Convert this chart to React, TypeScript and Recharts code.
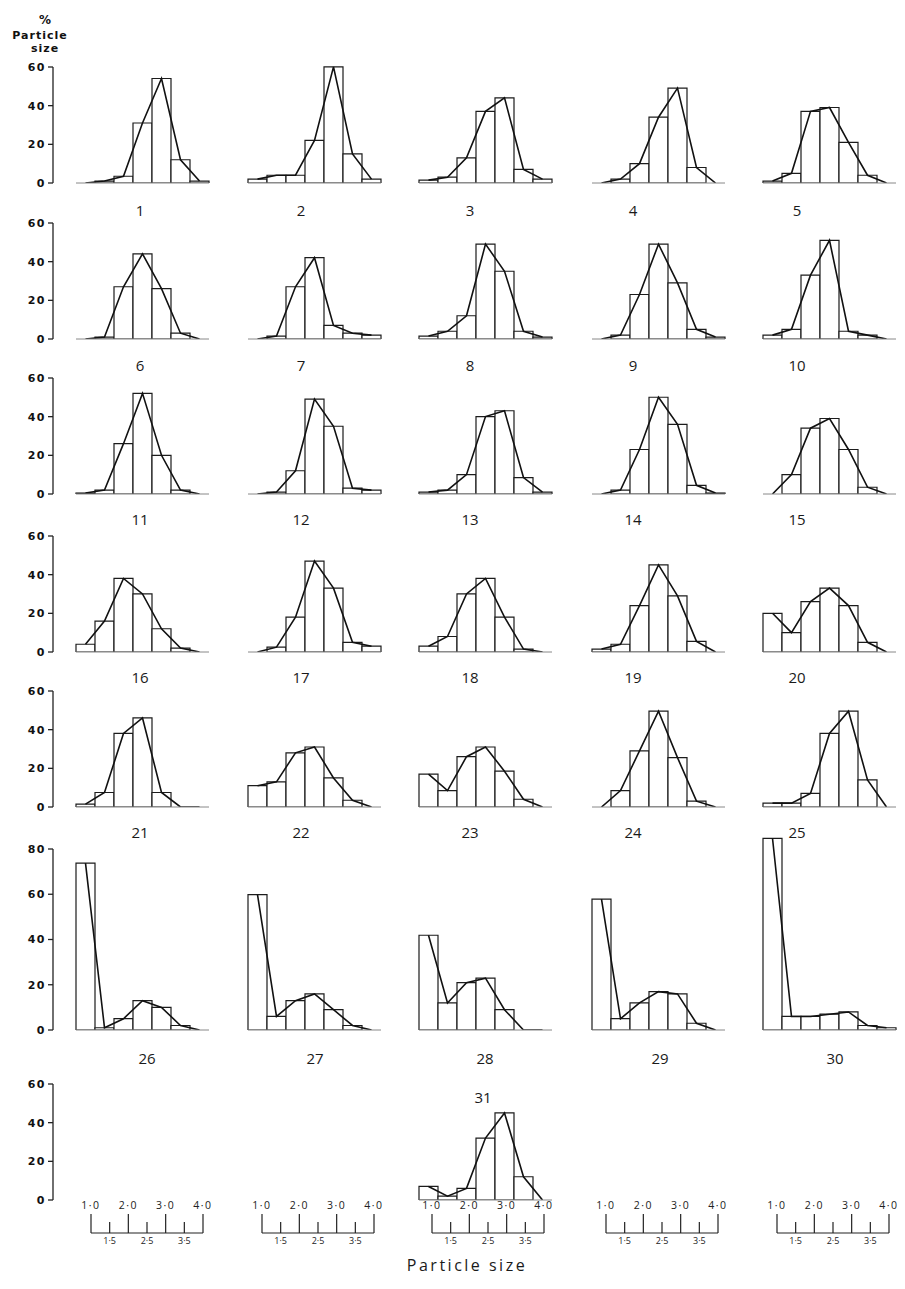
import React from 'react';
import { ComposedChart, LineChart, Bar, Line, XAxis, YAxis } from 'recharts';

// ---------- DATA ----------
const bins = ['0·5–1·0', '1·0–1·5', '1·5–2·0', '2·0–2·5', '2·5–3·0', '3·0–3·5', '3·5–4·0'];

const s1 = [0, 1, 3.5, 31, 54, 12, 1];
const s2 = [2, 4, 4, 22, 60, 15, 2];
const s3 = [1.5, 3, 13, 37, 44, 7, 2];
const s4 = [0, 2, 10, 34, 49, 8, 0];
const s5 = [1, 5, 37, 39, 21, 4, 0];
const s6 = [0, 1, 27, 44, 26, 3, 0];
const s7 = [0, 1.5, 27, 42, 7, 3, 2];
const s8 = [1.5, 4, 12, 49, 35, 4, 1];
const s9 = [0, 2, 23, 49, 29, 5, 1];
const s10 = [2, 5, 33, 51, 4, 2, 0];
const s11 = [0.5, 2, 26, 52, 20, 2, 0];
const s12 = [0, 1, 12, 49, 35, 3, 2];
const s13 = [1, 2, 10, 40, 43, 8.5, 1];
const s14 = [0, 2, 23, 50, 36, 4.5, 0.5];
const s15 = [0, 10, 34, 39, 23, 3.5, 0];
const s16 = [4, 16, 38, 30, 12, 2, 0];
const s17 = [0, 2.5, 18, 47, 33, 5, 3];
const s18 = [3, 8, 30, 38, 18, 1.5, 0];
const s19 = [1.5, 4, 24, 45, 29, 5.5, 0];
const s20 = [20, 10, 26, 33, 24, 5, 0];
const s21 = [1.5, 7.5, 38, 46, 7.5, 0, 0];
const s22 = [11, 13, 28, 31, 15, 3.5, 0];
const s23 = [17, 8.5, 26, 31, 18.5, 4, 0];
const s24 = [0, 8.5, 29, 49.5, 25.5, 3, 0];
const s25 = [2, 2, 7, 38, 49.5, 14, 0];
const s26 = [74, 1, 5, 13, 10, 2, 0];
const s27 = [60, 6, 13, 16, 9, 2, 0];
const s28 = [42, 12, 21, 23, 9, 0, 0];
const s29 = [58, 5, 12, 17, 16, 3, 0];
const s30 = [85, 6, 6, 7, 8, 2, 1];
const s31 = [7, 2, 6, 32, 45, 12, 0];

const allSeries = [s1, s2, s3, s4, s5, s6, s7, s8, s9, s10, s11, s12, s13, s14, s15, s16, s17, s18, s19, s20,
  s21, s22, s23, s24, s25, s26, s27, s28, s29, s30, s31];
const panelLabels = ['1', '2', '3', '4', '5', '6', '7', '8', '9', '10', '11', '12', '13', '14', '15', '16', '17', '18', '19', '20',
  '21', '22', '23', '24', '25', '26', '27', '28', '29', '30', '31'];

const yTicks = [0, 20, 40, 60];
const yTicksTall = [0, 20, 40, 60, 80];
const scaleTicks = [1, 1.5, 2, 2.5, 3, 3.5, 4];
const scaleLabels = ['1·0', '1·5', '2·0', '2·5', '3·0', '3·5', '4·0'];

// ---------- LAYOUT ----------
const BIN_W = 19;
const PLOT_W = BIN_W * bins.length;
const PAD = 3;
const colX = [76, 248, 419, 592, 763];
const rowBase = [183, 339, 494, 652, 807, 1030, 1200];
const rowPpu = [1.93, 1.93, 1.93, 1.93, 1.93, 2.26, 1.93];
const rowYmax = [62, 62, 62, 62, 62, 90, 62];
const rowAxisMax = [60, 60, 60, 60, 60, 80, 60];
const labelXTop = [140, 301, 470, 633, 797];
const labelXRow6 = [147, 315, 485, 660, 835];
const labelY = [210, 365, 519, 677, 832, 1058];
const scaleX = [91, 262, 432, 606, 777];
const SCALE_W = 112;
const SCALE_LINE_Y = 1233;

const FONT = '"Open Sans", "DejaVu Sans", sans-serif';

function Panel({ values, left, base, ppu, ymax }: { values: number[]; left: number; base: number; ppu: number; ymax: number }) {
  const data = bins.map((b, i) => ({ bin: b, v: values[i] }));
  const plotH = Math.round(ymax * ppu);
  return (
    <div style={{ position: 'absolute', left: left - PAD, top: base - plotH - PAD }}>
      <ComposedChart
        width={PLOT_W + 2 * PAD}
        height={plotH + PAD + 1}
        data={data}
        margin={{ top: PAD, right: PAD, bottom: 0, left: PAD }}
        barCategoryGap={0}
        barGap={0}
      >
        <XAxis dataKey="bin" tick={false} tickLine={false} axisLine={{ stroke: '#888', strokeWidth: 1 }} height={1} />
        <YAxis hide domain={[0, ymax]} allowDataOverflow />
        <Bar dataKey="v" fill="#ffffff" stroke="#1c1c1c" strokeWidth={1.2} isAnimationActive={false} />
        <Line type="linear" dataKey="v" stroke="#111" strokeWidth={1.6} dot={false} isAnimationActive={false} />
      </ComposedChart>
    </div>
  );
}

function RowAxis({ base, ppu, max, ticks }: { base: number; ppu: number; max: number; ticks: number[] }) {
  const plotH = Math.round(max * ppu);
  return (
    <div style={{ position: 'absolute', left: 0, top: base - plotH - 8 }}>
      <LineChart width={58} height={plotH + 16} data={[{ x: 0, y: 0 }, { x: 1, y: 0 }]} margin={{ top: 8, right: 2, bottom: 8, left: 0 }}>
        <XAxis dataKey="x" hide />
        <YAxis
          domain={[0, max]}
          ticks={ticks}
          interval={0}
          width={53}
          tickSize={5}
          tickMargin={2}
          axisLine={{ stroke: '#222', strokeWidth: 1.3 }}
          tickLine={{ stroke: '#222', strokeWidth: 1.3 }}
          tick={{ fill: '#111', fontSize: 11, fontWeight: 700, fontFamily: '"DejaVu Sans", sans-serif', letterSpacing: 1.5 }}
        />
        <Line dataKey="y" stroke="none" dot={false} isAnimationActive={false} />
      </LineChart>
    </div>
  );
}

function ScaleTick(props: any) {
  const { x, y, payload } = props;
  const v = payload.value as number;
  const idx = scaleTicks.indexOf(v);
  const label = scaleLabels[idx] ?? String(v);
  const major = Math.abs(v - Math.round(v)) < 1e-6;
  return (
    <g>
      <line x1={x} x2={x} y1={y} y2={y - (major ? 19 : 11)} stroke="#222" strokeWidth={1.2} />
      {major ? (
        <text x={x} y={y - 24} textAnchor="middle" fontSize={10.5} fontFamily={FONT} fill="#222" letterSpacing={1.5}>{label}</text>
      ) : (
        <text x={x} y={y + 11} textAnchor="middle" fontSize={9} fontFamily={FONT} fill="#222">{label}</text>
      )}
    </g>
  );
}

function Scale({ left }: { left: number }) {
  const m = 12;
  return (
    <div style={{ position: 'absolute', left: left - m, top: SCALE_LINE_Y - 34 }}>
      <LineChart width={SCALE_W + 2 * m} height={52} data={[{ x: 1, y: 0 }, { x: 4, y: 0 }]} margin={{ top: 0, right: m, bottom: 0, left: m }}>
        <XAxis
          dataKey="x"
          type="number"
          domain={[1, 4]}
          ticks={scaleTicks}
          interval={0}
          height={18}
          tickSize={0}
          tickMargin={0}
          axisLine={{ stroke: '#222', strokeWidth: 1.2 }}
          tick={<ScaleTick />}
        />
        <YAxis hide domain={[0, 1]} />
        <Line dataKey="y" stroke="none" dot={false} isAnimationActive={false} />
      </LineChart>
    </div>
  );
}

export default function App() {
  const panels: React.ReactNode[] = [];
  const labels: React.ReactNode[] = [];
  allSeries.forEach((vals, i) => {
    let row = Math.floor(i / 5);
    let col = i % 5;
    if (i === 30) { row = 6; col = 2; }
    panels.push(
      <Panel key={'p' + i} values={vals} left={colX[col]} base={rowBase[row]} ppu={rowPpu[row]} ymax={rowYmax[row]} />
    );
    let lx: number; let ly: number;
    if (row < 5) { lx = labelXTop[col]; ly = labelY[row]; }
    else if (row === 5) { lx = labelXRow6[col]; ly = labelY[5]; }
    else { lx = 483; ly = 1097; }
    labels.push(
      <text key={'l' + i} x={lx} y={ly} textAnchor="middle" dominantBaseline="central" fontSize={15} fontFamily={FONT} fill="#1a1a1a">
        {panelLabels[i]}
      </text>
    );
  });

  return (
    <div style={{ position: 'absolute', left: 0, top: 0, width: 905, height: 1289, background: '#fff', overflow: 'hidden' }}>
      {rowBase.map((b, r) => (
        <RowAxis key={'a' + r} base={b} ppu={rowPpu[r]} max={rowAxisMax[r]} ticks={r === 5 ? yTicksTall : yTicks} />
      ))}
      {panels}
      {scaleX.map((x, i) => <Scale key={'s' + i} left={x} />)}
      <svg width={905} height={1289} style={{ position: 'absolute', left: 0, top: 0, pointerEvents: 'none' }}>
        <text x={45} y={20} textAnchor="middle" dominantBaseline="central" fontSize={12} fontWeight={700} fontFamily='"DejaVu Sans", sans-serif' fill="#111">%</text>
        <text x={40} y={35} textAnchor="middle" dominantBaseline="central" fontSize={11} fontWeight={700} fontFamily='"DejaVu Sans", sans-serif' fill="#111" letterSpacing={1}>Particle</text>
        <text x={45} y={48} textAnchor="middle" dominantBaseline="central" fontSize={11} fontWeight={700} fontFamily='"DejaVu Sans", sans-serif' fill="#111" letterSpacing={1}>size</text>
        {labels}
        <text x={467} y={1265} textAnchor="middle" dominantBaseline="central" fontSize={16} fontFamily={FONT} fill="#1a1a1a" letterSpacing={2.5}>Particle  size</text>
      </svg>
    </div>
  );
}
